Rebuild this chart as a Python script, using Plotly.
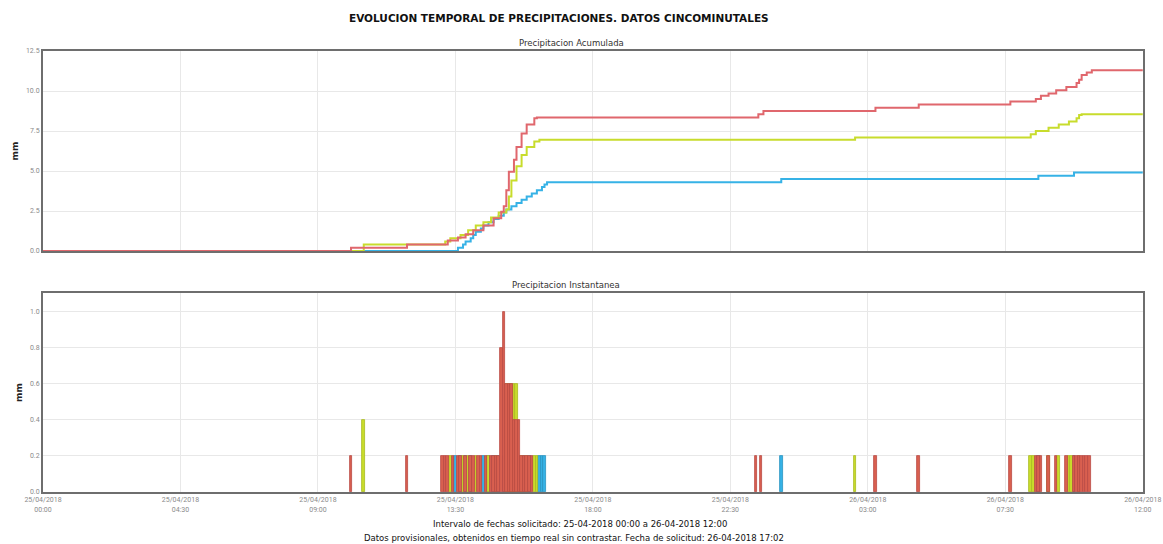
import pandas as pd
import plotly.graph_objects as go
from plotly.subplots import make_subplots

# ---------------- data ----------------
# Cumulative precipitation (mm), step series
red_cum_t = ["2018-04-25 00:00", "2018-04-25 10:05", "2018-04-25 11:55", "2018-04-25 13:15", "2018-04-25 13:35",
             "2018-04-25 13:50", "2018-04-25 14:05", "2018-04-25 14:25", "2018-04-25 14:45", "2018-04-25 15:00",
             "2018-04-25 15:05", "2018-04-25 15:10", "2018-04-25 15:15", "2018-04-25 15:25", "2018-04-25 15:30",
             "2018-04-25 15:40", "2018-04-25 15:50", "2018-04-25 16:05", "2018-04-25 16:10", "2018-04-25 23:25",
             "2018-04-25 23:35", "2018-04-26 03:15", "2018-04-26 04:40", "2018-04-26 07:40", "2018-04-26 08:30",
             "2018-04-26 08:40", "2018-04-26 08:55", "2018-04-26 09:10", "2018-04-26 09:30", "2018-04-26 09:50",
             "2018-04-26 09:55", "2018-04-26 10:00", "2018-04-26 10:10", "2018-04-26 10:20", "2018-04-26 12:00"]
red_cum_v = [0.0, 0.2, 0.4, 0.65, 0.85, 1.05, 1.3, 1.6, 2.05, 2.45, 2.8, 3.8, 4.95, 5.7, 6.5, 7.35, 7.9, 8.3, 8.35,
             8.55, 8.75, 8.95, 9.15, 9.35, 9.5, 9.7, 9.85, 10.05, 10.25, 10.5, 10.7, 11.0, 11.15, 11.3, 11.3]

yel_cum_t = ["2018-04-25 00:00", "2018-04-25 10:30", "2018-04-25 13:10", "2018-04-25 13:20", "2018-04-25 13:40",
             "2018-04-25 13:55", "2018-04-25 14:10", "2018-04-25 14:25", "2018-04-25 14:40", "2018-04-25 14:55",
             "2018-04-25 15:10", "2018-04-25 15:15", "2018-04-25 15:20", "2018-04-25 15:30", "2018-04-25 15:40",
             "2018-04-25 15:50", "2018-04-25 16:05", "2018-04-25 16:15", "2018-04-26 02:35", "2018-04-26 08:20",
             "2018-04-26 08:30", "2018-04-26 08:55", "2018-04-26 09:15", "2018-04-26 09:35", "2018-04-26 09:50",
             "2018-04-26 09:55", "2018-04-26 10:00", "2018-04-26 12:00"]
yel_cum_v = [0.0, 0.4, 0.6, 0.8, 1.0, 1.3, 1.6, 1.8, 2.1, 2.4, 2.6, 3.4, 4.4, 5.3, 6.0, 6.5, 6.85, 6.95, 7.1, 7.3,
             7.5, 7.7, 7.9, 8.1, 8.3, 8.5, 8.55, 8.55]

blu_cum_t = ["2018-04-25 00:00", "2018-04-25 13:35", "2018-04-25 13:45", "2018-04-25 13:50", "2018-04-25 14:00",
             "2018-04-25 14:05", "2018-04-25 14:10", "2018-04-25 14:20", "2018-04-25 14:25", "2018-04-25 14:35",
             "2018-04-25 14:45", "2018-04-25 14:55", "2018-04-25 15:05", "2018-04-25 15:10", "2018-04-25 15:20",
             "2018-04-25 15:30", "2018-04-25 15:40", "2018-04-25 15:50", "2018-04-25 16:00", "2018-04-25 16:10",
             "2018-04-25 16:20", "2018-04-25 16:25", "2018-04-25 16:30", "2018-04-26 00:10", "2018-04-26 08:35",
             "2018-04-26 09:45", "2018-04-26 12:00"]
blu_cum_v = [0.0, 0.2, 0.4, 0.6, 0.8, 1.0, 1.2, 1.4, 1.6, 1.8, 2.0, 2.2, 2.4, 2.6, 2.8, 3.0, 3.2, 3.4, 3.6, 3.8,
             4.0, 4.15, 4.3, 4.5, 4.7, 4.9, 4.9]

# Instantaneous precipitation (mm per 5 minutes)
red_bar_t = ["2018-04-25 10:05", "2018-04-25 11:55", "2018-04-25 13:05", "2018-04-25 13:10", "2018-04-25 13:15",
             "2018-04-25 13:25", "2018-04-25 13:35", "2018-04-25 13:40", "2018-04-25 13:50", "2018-04-25 14:00",
             "2018-04-25 14:05", "2018-04-25 14:15", "2018-04-25 14:20", "2018-04-25 14:30", "2018-04-25 14:40",
             "2018-04-25 14:45", "2018-04-25 14:50", "2018-04-25 14:55", "2018-04-25 15:00", "2018-04-25 15:05",
             "2018-04-25 15:10", "2018-04-25 15:15", "2018-04-25 15:20", "2018-04-25 15:25", "2018-04-25 15:30",
             "2018-04-25 15:35", "2018-04-25 15:40", "2018-04-25 15:45", "2018-04-25 15:50", "2018-04-25 15:55",
             "2018-04-25 16:00", "2018-04-25 23:20", "2018-04-25 23:30", "2018-04-26 03:15", "2018-04-26 04:40",
             "2018-04-26 07:40", "2018-04-26 08:30", "2018-04-26 08:35", "2018-04-26 08:40", "2018-04-26 08:55",
             "2018-04-26 09:10", "2018-04-26 09:30", "2018-04-26 09:45", "2018-04-26 09:50", "2018-04-26 09:55",
             "2018-04-26 10:00", "2018-04-26 10:05", "2018-04-26 10:10", "2018-04-26 10:15"]
red_bar_v = [0.2, 0.2, 0.2, 0.2, 0.2, 0.2, 0.2, 0.2, 0.2, 0.2, 0.2, 0.2, 0.2, 0.2, 0.2, 0.2, 0.2, 0.2, 0.8, 1.0,
             0.6, 0.6, 0.6, 0.4, 0.4, 0.4, 0.2, 0.2, 0.2, 0.2, 0.2, 0.2, 0.2, 0.2, 0.2, 0.2, 0.2, 0.2, 0.2, 0.2,
             0.2, 0.2, 0.2, 0.2, 0.2, 0.2, 0.2, 0.2, 0.2]

yel_bar_t = ["2018-04-25 10:30", "2018-04-25 13:20", "2018-04-25 13:45", "2018-04-25 13:55", "2018-04-25 14:10",
             "2018-04-25 14:35", "2018-04-25 14:50", "2018-04-25 15:10", "2018-04-25 15:15", "2018-04-25 15:20",
             "2018-04-25 15:25", "2018-04-25 15:30", "2018-04-25 15:40", "2018-04-25 15:50", "2018-04-25 16:05",
             "2018-04-25 16:10", "2018-04-26 02:35", "2018-04-26 08:20", "2018-04-26 08:25", "2018-04-26 08:55",
             "2018-04-26 09:15", "2018-04-26 09:35", "2018-04-26 09:40", "2018-04-26 09:55"]
yel_bar_v = [0.4, 0.2, 0.2, 0.2, 0.2, 0.2, 0.2, 0.6, 0.6, 0.6, 0.6, 0.6, 0.2, 0.2, 0.2, 0.2, 0.2, 0.2, 0.2, 0.2,
             0.2, 0.2, 0.2, 0.2]

blu_bar_t = ["2018-04-25 13:30", "2018-04-25 13:40", "2018-04-25 13:50", "2018-04-25 14:00", "2018-04-25 14:25",
             "2018-04-25 14:35", "2018-04-25 14:45", "2018-04-25 14:55", "2018-04-25 15:05", "2018-04-25 15:15",
             "2018-04-25 15:25", "2018-04-25 15:35", "2018-04-25 15:45", "2018-04-25 15:55", "2018-04-25 16:15",
             "2018-04-25 16:20", "2018-04-25 16:25", "2018-04-26 00:10", "2018-04-26 08:35", "2018-04-26 09:45"]
blu_bar_v = [0.2] * 20

tick_vals = ["2018-04-25 00:00", "2018-04-25 04:30", "2018-04-25 09:00", "2018-04-25 13:30", "2018-04-25 18:00",
             "2018-04-25 22:30", "2018-04-26 03:00", "2018-04-26 07:30", "2018-04-26 12:00"]
tick_text = ["25/04/2018<br>00:00", "25/04/2018<br>04:30", "25/04/2018<br>09:00", "25/04/2018<br>13:30",
             "25/04/2018<br>18:00", "25/04/2018<br>22:30", "26/04/2018<br>03:00", "26/04/2018<br>07:30",
             "26/04/2018<br>12:00"]

title_text = "EVOLUCION TEMPORAL DE PRECIPITACIONES. DATOS CINCOMINUTALES"
sub1 = "Precipitacion Acumulada"
sub2 = "Precipitacion Instantanea"
foot1 = "Intervalo de fechas solicitado: 25-04-2018 00:00 a 26-04-2018 12:00"
foot2 = "Datos provisionales, obtenidos en tiempo real sin contrastar. Fecha de solicitud: 26-04-2018 17:02"

# ---------------- styles ----------------
RED_L, YEL_L, BLU_L = "#e0676d", "#c8dc2c", "#36b2e6"
RED_B, YEL_B, BLU_B = "#d9604f", "#c8dc2c", "#36b2e6"

W, H = 1163, 544
ML, MR, MT, MB = 43, 20, 51, 52
plot_w = W - ML - MR
plot_h = H - MT - MB

fig = make_subplots(rows=2, cols=1, shared_xaxes=False, vertical_spacing=0.09)

def dt(a):
    return pd.to_datetime(a)

for t, v, c in [(blu_cum_t, blu_cum_v, BLU_L), (yel_cum_t, yel_cum_v, YEL_L), (red_cum_t, red_cum_v, RED_L)]:
    fig.add_trace(go.Scatter(x=dt(t), y=v, mode="lines", line=dict(color=c, width=2, shape="hv"),
                             showlegend=False, hoverinfo="skip"), row=1, col=1)

bw = 5 * 60 * 1000
for t, v, c, lc in [(blu_bar_t, blu_bar_v, BLU_B, "#2a93c0"), (yel_bar_t, yel_bar_v, YEL_B, "#a8ba20"),
                    (red_bar_t, red_bar_v, RED_B, "#b94a45")]:
    fig.add_trace(go.Bar(x=dt(t), y=v, width=bw, marker=dict(color=c, line=dict(color=lc, width=0.8)),
                         showlegend=False, hoverinfo="skip"), row=2, col=1)

def px_x(p):
    return (p - ML) / plot_w

def px_y(p):
    return (H - MB - p) / plot_h

dom_top = [px_y(251), 1.0]
dom_bot = [0.0, px_y(293)]

axis_common = dict(showline=True, mirror=True, linecolor="#6e6e6e", linewidth=2, automargin=False,
                   showgrid=True, gridcolor="#e8e8e8", gridwidth=1, zeroline=False, ticks="")
x_range = [dt("2018-04-25 00:00"), dt("2018-04-26 12:00") + pd.Timedelta(seconds=30)]
tick_font = dict(family="Roboto", size=7, color="#8a8a8a")
mm_title = dict(text="<b>mm</b>", font=dict(family="DejaVu Sans", size=9, color="#222"), standoff=6)

fig.update_xaxes(range=x_range, tickvals=dt(tick_vals), ticktext=tick_text, **axis_common)
fig.update_xaxes(showticklabels=False, row=1, col=1)
fig.update_xaxes(showticklabels=True, tickfont=tick_font, row=2, col=1)

fig.update_yaxes(**axis_common)
fig.update_yaxes(range=[0, 12.5], tick0=0, dtick=2.5, tickformat=".1f", domain=dom_top,
                 tickfont=tick_font, title=mm_title, row=1, col=1)
fig.update_yaxes(range=[0, 1.105], tick0=0, dtick=0.2, tickformat=".1f", domain=dom_bot,
                 tickfont=tick_font, title=mm_title, row=2, col=1)

ann = [
    dict(text="<b>" + title_text + "</b>", x=px_x(559), y=px_y(18),
         font=dict(family="DejaVu Sans", size=10.5, color="#111")),
    dict(text=sub1, x=px_x(571), y=px_y(43), font=dict(family="DejaVu Sans", size=8.5, color="#333")),
    dict(text=sub2, x=px_x(566), y=px_y(285), font=dict(family="DejaVu Sans", size=8.5, color="#333")),
    dict(text=foot1, x=px_x(580), y=px_y(524), font=dict(family="DejaVu Sans", size=8.5, color="#111")),
    dict(text=foot2, x=px_x(574), y=px_y(538), font=dict(family="DejaVu Sans", size=8.5, color="#111")),
]
for a in ann:
    a.update(xref="paper", yref="paper", showarrow=False, xanchor="center", yanchor="middle")

fig.update_layout(width=W, height=H, margin=dict(l=ML, r=MR, t=MT, b=MB),
                  paper_bgcolor="white", plot_bgcolor="white", barmode="overlay", bargap=0,
                  annotations=ann, font=dict(family="DejaVu Sans"))

fig.write_html("out.html", config={"displayModeBar": False},
               post_script="document.body.style.margin='0';document.body.style.overflow='hidden';")
